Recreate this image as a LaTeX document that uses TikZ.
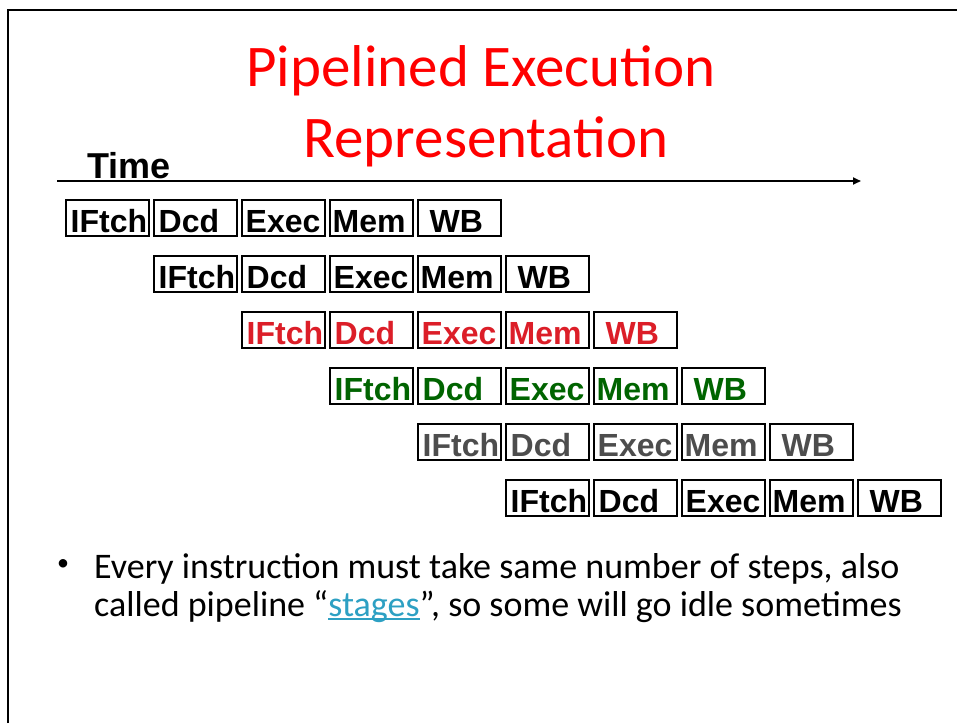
\documentclass[tikz,border=0pt]{standalone}
\usepackage{fontspec}
\setmainfont{Carlito}
\newfontfamily\boxfont{Liberation Sans}
\newfontfamily\arialfont{Liberation Sans}
\usetikzlibrary{arrows.meta}
\definecolor{titlered}{RGB}{255,0,0}
\definecolor{stagered}{RGB}{220,30,40}
\definecolor{stagegreen}{RGB}{0,100,0}
\definecolor{stagegray}{RGB}{77,77,77}
\definecolor{linkblue}{RGB}{45,160,195}
\newcommand{\linkul}[1]{\setbox0\hbox{#1}\rlap{\rule[-4pt]{\wd0}{1.6pt}}\box0}
\begin{document}
\begin{tikzpicture}[x=1pt,y=-1pt,
  cell/.style={draw=black, line width=2.8pt, minimum width=83pt, minimum height=36pt, inner sep=0pt, fill=white},
  celltext/.style={inner sep=0pt, font=\boxfont\bfseries\fontsize{32}{34}\selectfont},
  titletext/.style={inner sep=0pt, text=titlered, font=\fontsize{59}{64}\selectfont},
  bodytext/.style={inner sep=0pt, text=black, font=\fontsize{36}{42}\selectfont},
  timeaxis/.style={line width=2pt, -{Triangle[length=8pt,width=7pt]}}
]
\useasboundingbox (0,0) rectangle (957,723);
% frame
\draw[line width=2pt] (8,723) -- (8,10) -- (957,10);
% title
\node[titletext, anchor=base] (title1) at (481,86) {Pipelined Execution};
\node[titletext, anchor=base] (title2) at (486,157) {Representation};
% time axis
\node[inner sep=0pt, anchor=base west, font=\arialfont\bfseries\fontsize{36}{40}\selectfont] (time) at (87,178) {Time};
\coordinate (axisstart) at (57,181);
\coordinate (axisend) at (861,181);
\draw[timeaxis] (axisstart) -- (axisend);
% pipeline cells
\foreach \r/\col in {0/black,1/black,2/stagered,3/stagegreen,4/stagegray,5/black} {
  \foreach \c/\txt/\off in {0/IFtch/6,1/Dcd/6,2/Exec/5,3/Mem/4,4/WB/13} {
    \pgfmathsetmacro\xl{64.5+88*(\r+\c)}
    \pgfmathsetmacro\yt{198.5+56*\r}
    \node[cell, anchor=north west] (b\r\c) at (\xl,\yt) {};
    \node[celltext, text=\col, anchor=base west, xshift=\off pt, yshift=4.5pt] (t\r\c) at (b\r\c.south west) {\txt};
  }
}
% bullet text
\node[inner sep=0pt, font=\fontsize{24}{28}\selectfont] (bullet) at (63,565) {•};
\node[bodytext, anchor=base west] (line1) at (94,578) {Every instruction must take same number of steps, also};
\node[bodytext, anchor=base west] (line2) at (94,616) {called pipeline “{\color{linkblue}\linkul{stages}}”, so some will go idle sometimes};
\end{tikzpicture}
\end{document}
